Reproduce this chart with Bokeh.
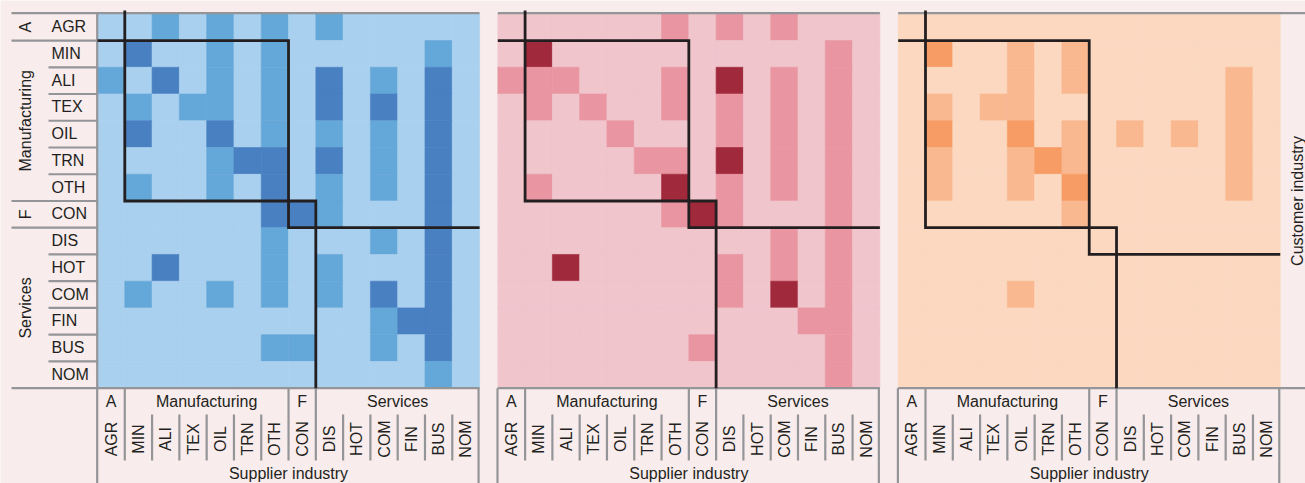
import numpy as np
from bokeh.plotting import figure
from bokeh.models import Range1d
from bokeh.core.properties import value
from bokeh.embed import file_html
from bokeh.resources import INLINE

# ---------------- data ----------------
industries = ["AGR", "MIN", "ALI", "TEX", "OIL", "TRN", "OTH",
              "CON", "DIS", "HOT", "COM", "FIN", "BUS", "NOM"]
group_names = ["A", "Manufacturing", "F", "Services"]
group_sizes = [1, 6, 1, 6]            # supplier / customer industry groups
block_rows_panel = [[1, 6, 1, 6], [1, 6, 1, 6], [1, 7, 1, 5]]  # diagonal blocks (rows)
block_cols_panel = [[1, 6, 1, 6], [1, 6, 1, 6], [1, 6, 1, 6]]  # diagonal blocks (cols)

# levels: 0 = low, 1 = medium, 2 = high  (rows = customer, cols = supplier)
blue_levels = [
    [0, 0, 1, 0, 1, 0, 1, 0, 1, 0, 0, 0, 0, 0],
    [0, 2, 0, 0, 1, 0, 1, 0, 0, 0, 0, 0, 1, 0],
    [1, 0, 2, 0, 1, 0, 1, 0, 2, 0, 1, 0, 2, 0],
    [0, 1, 0, 1, 1, 0, 1, 0, 2, 0, 2, 0, 2, 0],
    [0, 2, 0, 0, 2, 0, 1, 0, 1, 0, 1, 0, 2, 0],
    [0, 0, 0, 0, 1, 2, 2, 0, 2, 0, 1, 0, 2, 0],
    [0, 1, 0, 0, 1, 0, 2, 0, 1, 0, 1, 0, 2, 0],
    [0, 0, 0, 0, 0, 0, 2, 2, 1, 0, 0, 0, 2, 0],
    [0, 0, 0, 0, 0, 0, 1, 0, 0, 0, 1, 0, 2, 0],
    [0, 0, 2, 0, 0, 0, 1, 0, 1, 0, 0, 0, 2, 0],
    [0, 1, 0, 0, 1, 0, 1, 0, 1, 0, 2, 0, 2, 0],
    [0, 0, 0, 0, 0, 0, 0, 0, 0, 0, 1, 2, 2, 0],
    [0, 0, 0, 0, 0, 0, 1, 1, 0, 0, 1, 0, 2, 0],
    [0, 0, 0, 0, 0, 0, 0, 0, 0, 0, 0, 0, 1, 0],
]
pink_levels = [
    [0, 0, 0, 0, 0, 0, 1, 0, 1, 0, 1, 0, 0, 0],
    [0, 2, 0, 0, 0, 0, 0, 0, 0, 0, 0, 0, 1, 0],
    [1, 1, 1, 0, 0, 0, 1, 0, 2, 0, 1, 0, 1, 0],
    [0, 1, 0, 1, 0, 0, 1, 0, 1, 0, 1, 0, 1, 0],
    [0, 0, 0, 0, 1, 0, 0, 0, 1, 0, 1, 0, 1, 0],
    [0, 0, 0, 0, 0, 1, 1, 0, 2, 0, 1, 0, 1, 0],
    [0, 1, 0, 0, 0, 0, 2, 0, 1, 0, 1, 0, 1, 0],
    [0, 0, 0, 0, 0, 0, 1, 2, 1, 0, 0, 0, 1, 0],
    [0, 0, 0, 0, 0, 0, 0, 0, 0, 0, 1, 0, 1, 0],
    [0, 0, 2, 0, 0, 0, 0, 0, 1, 0, 1, 0, 1, 0],
    [0, 0, 0, 0, 0, 0, 0, 0, 1, 0, 2, 0, 1, 0],
    [0, 0, 0, 0, 0, 0, 0, 0, 0, 0, 0, 1, 1, 0],
    [0, 0, 0, 0, 0, 0, 0, 1, 0, 0, 0, 0, 1, 0],
    [0, 0, 0, 0, 0, 0, 0, 0, 0, 0, 0, 0, 1, 0],
]
orange_levels = [
    [0, 0, 0, 0, 0, 0, 0, 0, 0, 0, 0, 0, 0, 0],
    [0, 2, 0, 0, 1, 0, 1, 0, 0, 0, 0, 0, 0, 0],
    [0, 0, 0, 0, 1, 0, 1, 0, 0, 0, 0, 0, 1, 0],
    [0, 1, 0, 1, 1, 0, 0, 0, 0, 0, 0, 0, 1, 0],
    [0, 2, 0, 0, 2, 0, 1, 0, 1, 0, 1, 0, 1, 0],
    [0, 1, 0, 0, 1, 2, 1, 0, 0, 0, 0, 0, 1, 0],
    [0, 1, 0, 0, 1, 0, 2, 0, 0, 0, 0, 0, 1, 0],
    [0, 0, 0, 0, 0, 0, 1, 0, 0, 0, 0, 0, 0, 0],
    [0, 0, 0, 0, 0, 0, 0, 0, 0, 0, 0, 0, 0, 0],
    [0, 0, 0, 0, 0, 0, 0, 0, 0, 0, 0, 0, 0, 0],
    [0, 0, 0, 0, 1, 0, 0, 0, 0, 0, 0, 0, 0, 0],
    [0, 0, 0, 0, 0, 0, 0, 0, 0, 0, 0, 0, 0, 0],
    [0, 0, 0, 0, 0, 0, 0, 0, 0, 0, 0, 0, 0, 0],
    [0, 0, 0, 0, 0, 0, 0, 0, 0, 0, 0, 0, 0, 0],
]
panels = [blue_levels, pink_levels, orange_levels]
palettes = [["#a9d0ef", "#64a7d9", "#4880c2"],
            ["#f0c5cb", "#e996a2", "#a0293c"],
            ["#fbd8bf", "#f9b890", "#f79c64"]]
x_title = "Supplier industry"
y_title = "Customer industry"

# ---------------- layout ----------------
BG = "#f8ecec"
GRAY = "#949598"
INK = "#231f20"
FONT = value("Liberation Sans")
FS = "16px"

W, H = 1305, 483
PX0 = [97.0, 497.3, 897.7]
CW = 27.29
TOP = 13.3
CH = 26.74
n = len(industries)
BOT = TOP + n * CH

p = figure(width=W, height=H, x_range=Range1d(0, W), y_range=Range1d(H, 0),
           output_backend="svg", toolbar_location=None, min_border=0,
           x_axis_location=None, y_axis_location=None)
p.grid.visible = False
p.outline_line_color = None
p.background_fill_color = BG
p.border_fill_color = BG

# cells
L, R, T, B, C = [], [], [], [], []
for k, (levels, pal) in enumerate(zip(panels, palettes)):
    for r, row in enumerate(levels):
        for c, lv in enumerate(row):
            L.append(PX0[k] + c * CW); R.append(PX0[k] + (c + 1) * CW)
            T.append(TOP + r * CH); B.append(TOP + (r + 1) * CH)
            C.append(pal[lv])
p.quad(left=L, right=R, top=T, bottom=B, fill_color=C, line_color=C, line_width=0.6)

# group bounds
gb = list(np.cumsum([0] + group_sizes))

# gray rules
sx0, sy0, sx1, sy1 = [], [], [], []
def seg(a, b, c, d):
    sx0.append(a); sy0.append(b); sx1.append(c); sy1.append(d)

right_edges = [PX0[0] + n * CW, PX0[1] + n * CW, W]
left_edges = [11, PX0[1], PX0[2]]
for k in range(3):
    seg(left_edges[k], TOP - 0.6, right_edges[k], TOP - 0.6)
    seg(left_edges[k], BOT, right_edges[k], BOT)
    seg(PX0[k] - 0.3, BOT, PX0[k] - 0.3, H)
    seg(PX0[k] + n * CW - 1, BOT, PX0[k] + n * CW - 1, H)
    for c in range(1, n):
        if c in gb:
            seg(PX0[k] + c * CW, BOT, PX0[k] + c * CW, 460)
        else:
            seg(PX0[k] + c * CW, 414, PX0[k] + c * CW, 460)
seg(PX0[0] - 0.3, TOP - 1.6, PX0[0] - 0.3, BOT)
for r in range(1, n):
    x_start = 11 if r in gb else 48
    seg(x_start, TOP + r * CH, PX0[0], TOP + r * CH)
p.segment(x0=sx0, y0=sy0, x1=sx1, y1=sy1, line_color=GRAY, line_width=2.2)

# black block staircase
bxs, bys = [], []
for k in range(3):
    rb = list(np.cumsum([0] + block_rows_panel[k]))
    cb = list(np.cumsum([0] + block_cols_panel[k]))
    X = lambda c: PX0[k] + c * CW
    Y = lambda r: TOP + r * CH
    bxs.append([X(cb[0]), X(cb[2]), X(cb[2]), X(cb[4])])
    bys.append([Y(rb[1]), Y(rb[1]), Y(rb[3]), Y(rb[3])])
    bxs.append([X(cb[1]), X(cb[1]), X(cb[3]), X(cb[3])])
    bys.append([TOP - 3.3, Y(rb[2]), Y(rb[2]), Y(rb[4])])
p.multi_line(xs=bxs, ys=bys, line_color=INK, line_width=2.8, line_join="miter")

txt = dict(text_font=FONT, text_font_size=FS, text_color=INK, text_baseline="middle")

# row labels
p.text(x=[51] * n, y=[TOP + (r + 0.5) * CH - 0.4 for r in range(n)], text=industries,
       text_align="left", **txt)
p.text(x=[25.0] * len(group_names),
       y=[TOP + (gb[i] + gb[i + 1]) / 2 * CH for i in range(len(group_names))],
       text=group_names, angle=np.pi / 2, text_align="center", **txt)

# column labels
cx, cy, ct, gx, gy, gt, tx, ty = [], [], [], [], [], [], [], []
for k in range(3):
    for c in range(n):
        cx.append(PX0[k] + (c + 0.5) * CW); cy.append(438.5); ct.append(industries[c])
    for i, g in enumerate(group_names):
        gx.append(PX0[k] + (gb[i] + gb[i + 1]) / 2 * CW); gy.append(401.2); gt.append(g)
    tx.append(PX0[k] + n * CW / 2); ty.append(472.5)
p.text(x=cx, y=cy, text=ct, angle=np.pi / 2, text_align="center", **txt)
p.text(x=gx, y=gy, text=gt, text_align="center", **txt)
p.text(x=tx, y=ty, text=[x_title] * 3, text_align="center", **txt)
p.text(x=[1297.0], y=[TOP + n * CH / 2], text=[y_title], angle=np.pi / 2,
       text_align="center", **txt)

open("out.html", "w").write(file_html(p, INLINE))
